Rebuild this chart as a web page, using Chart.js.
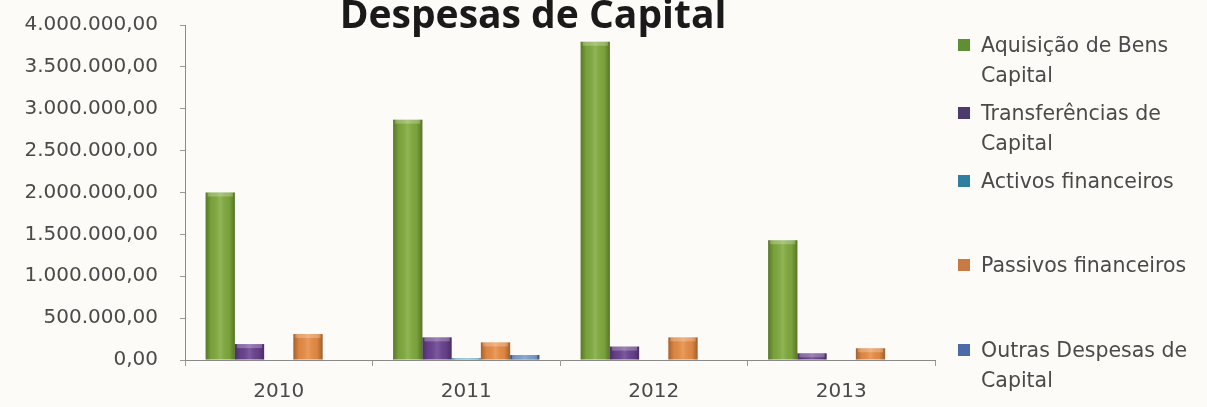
<!DOCTYPE html>
<html>
<head>
<meta charset="utf-8">
<title>Despesas de Capital</title>
<script src="https://cdn.jsdelivr.net/npm/chart.js@4/dist/chart.umd.min.js"></script>
<style>
  html, body { margin: 0; padding: 0; background: #fdfbf8; }
  #wrap { position: relative; width: 1207px; height: 407px; overflow: hidden; }
  #despesas-chart { position: absolute; left: 0; top: 0; }
  #legend { position: absolute; left: 958px; top: 0; width: 260px; font-family: 'DejaVu Sans', sans-serif; font-size: 20.5px; color: #4a4a4a; }
  .leg-item { position: absolute; left: 0; line-height: 30px; white-space: nowrap; }
  .leg-box { position: absolute; left: 0; top: 9px; width: 12px; height: 12px; }
  .leg-text { margin-left: 23px; }
</style>
</head>
<body>
<div id="wrap">
  <canvas id="despesas-chart" width="1207" height="407"></canvas>
  <div id="legend"></div>
</div>
<script>
'use strict';

// *************** DATA
let years = ['2010', '2011', '2012', '2013'];
let seriesNames = [
  ['Aquisição de Bens', 'Capital'],
  ['Transferências de', 'Capital'],
  ['Activos financeiros'],
  ['Passivos financeiros'],
  ['Outras Despesas de', 'Capital']
];
let aquisicaoBens = [2000000, 2870000, 3800000, 1430000];
let transferencias = [190000, 270000, 160000, 80000];
let activosFinanceiros = [0, 20000, 0, 0];
let passivosFinanceiros = [310000, 210000, 270000, 140000];
let outrasDespesas = [0, 60000, 0, 0];
let yTicks = [0, 500000, 1000000, 1500000, 2000000, 2500000, 3000000, 3500000, 4000000];

// *************** STYLE
let barColors = ['#80ab3e', '#6b4391', '#3f9fc0', '#e98d45', '#4f7fbd'];
let legendColors = ['#5f8f35', '#4e3a6e', '#2f7fa0', '#c87a45', '#4a6aa8'];
let legendTops = [30, 98, 166, 250, 335];

// format numbers as 4.000.000,00
function formatNumber(value) {
  let parts = Math.round(value).toString().replace(/\B(?=(\d{3})+(?!\d))/g, '.');
  return parts + ',00';
}

// *************** LEGEND (html)
let legendEl = document.getElementById('legend');
for (let i = 0; i < seriesNames.length; i++) {
  let item = document.createElement('div');
  item.className = 'leg-item';
  item.style.top = legendTops[i] + 'px';
  let box = document.createElement('span');
  box.className = 'leg-box';
  box.style.background = legendColors[i];
  item.appendChild(box);
  let text = document.createElement('div');
  text.className = 'leg-text';
  text.innerHTML = seriesNames[i].join('<br>');
  item.appendChild(text);
  legendEl.appendChild(item);
}

// *************** PLUGINS
// shading over each bar to give it the rounded look
let barShade = {
  id: 'barShade',
  afterDatasetsDraw(chart) {
    let ctx = chart.ctx;
    chart.data.datasets.forEach((ds, di) => {
      let meta = chart.getDatasetMeta(di);
      meta.data.forEach((bar) => {
        let left = bar.x - bar.width / 2;
        let h = bar.base - bar.y;
        if (h < 1) return;
        let grad = ctx.createLinearGradient(left, 0, left + bar.width, 0);
        grad.addColorStop(0, 'rgba(0,0,0,0.3)');
        grad.addColorStop(0.2, 'rgba(0,0,0,0.05)');
        grad.addColorStop(0.5, 'rgba(255,255,255,0.12)');
        grad.addColorStop(0.8, 'rgba(0,0,0,0.05)');
        grad.addColorStop(1, 'rgba(0,0,0,0.32)');
        ctx.save();
        ctx.fillStyle = grad;
        ctx.fillRect(left, bar.y, bar.width, h);
        // lighter cap on top
        ctx.fillStyle = 'rgba(255,255,255,0.25)';
        ctx.fillRect(left + 2, bar.y, bar.width - 4, Math.min(4, h));
        ctx.restore();
      });
    });
  }
};

let titlePlugin = {
  id: 'topTitle',
  afterDraw(chart) {
    let ctx = chart.ctx;
    ctx.save();
    ctx.font = 'bold 39px "Open Sans", sans-serif';
    ctx.fillStyle = '#1a1a1a';
    ctx.textAlign = 'center';
    ctx.textBaseline = 'alphabetic';
    ctx.fillText('Despesas de Capital', 533, 28);
    ctx.restore();
  }
};

// *************** CHART
let ctx = document.getElementById('despesas-chart');
let seriesValues = [aquisicaoBens, transferencias, activosFinanceiros, passivosFinanceiros, outrasDespesas];

let datasets = [];
for (let i = 0; i < seriesValues.length; i++) {
  datasets.push({
    label: seriesNames[i].join(' '),
    data: seriesValues[i],
    backgroundColor: barColors[i],
    borderWidth: 0,
    categoryPercentage: 0.78,
    barPercentage: 1
  });
}

let tickFont = { family: 'DejaVu Sans', size: 20 };

let chartObj = {
  type: 'bar',
  data: {
    labels: years,
    datasets: datasets
  },
  options: {
    responsive: false,
    animation: false,
    layout: {
      padding: { top: 25, right: 272, bottom: 0, left: 0 }
    },
    plugins: {
      legend: { display: false },
      tooltip: { enabled: false }
    },
    scales: {
      x: {
        afterFit(scale) {
          scale.height = 47;
        },
        grid: { display: true, drawOnChartArea: false, tickLength: 6, color: '#9a9a9a', offset: true },
        border: { display: true, color: '#8a8a8a', width: 1 },
        ticks: { color: '#4a4a4a', padding: 14, font: tickFont }
      },
      y: {
        min: 0,
        max: 4000000,
        afterBuildTicks(scale) {
          scale.ticks = yTicks.map((v) => ({ value: v }));
        },
        afterFit(scale) {
          scale.width = 185;
          scale.paddingTop = 0;
          scale.paddingBottom = 0;
        },
        grid: { display: true, drawOnChartArea: false, tickLength: 5, color: '#9a9a9a' },
        border: { display: true, color: '#8a8a8a', width: 1 },
        ticks: {
          color: '#4a4a4a',
          padding: 22,
          font: tickFont,
          callback: (v) => formatNumber(v)
        }
      }
    }
  },
  plugins: [barShade, titlePlugin]
};

new Chart(ctx, chartObj); // eslint-disable-line
</script>
</body>
</html>
